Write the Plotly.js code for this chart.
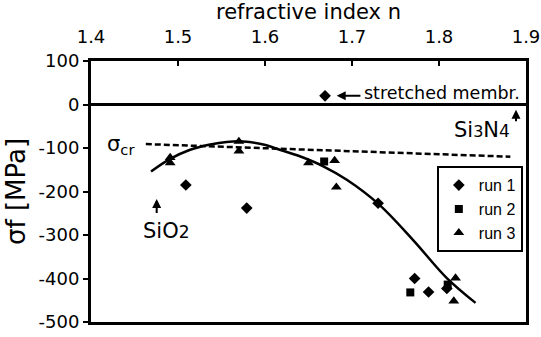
<!DOCTYPE html>
<html>
<head>
<meta charset="utf-8">
<script src="https://cdn.plot.ly/plotly-3.0.1.min.js"></script>
<style>html,body{margin:0;padding:0;background:#fff;}#chart{width:541px;height:337px;}</style>
</head>
<body>
<div id="chart"></div>
<script>
// refractive index n (x) and film stress sigma_f in MPa (y)
var run1_n = [1.669, 1.509, 1.579, 1.730, 1.772, 1.788, 1.809];
var run1_s = [20, -185, -238, -227, -400, -431, -423];
var run2_n = [1.668, 1.767, 1.810];
var run2_s = [-131, -432, -414];
var run3_n = [1.491, 1.491, 1.570, 1.570, 1.650, 1.680, 1.682, 1.819, 1.817];
var run3_s = [-122, -134, -85, -107, -134, -129, -190, -399, -452];
var fit_n = [1.469, 1.491, 1.514, 1.537, 1.556, 1.575, 1.598, 1.617, 1.640, 1.667, 1.694, 1.730, 1.770, 1.809, 1.842];
var fit_s = [-154, -125, -104, -92, -86, -85, -92, -104, -119, -142, -173, -228, -311, -399, -456];
var cr_n = [1.463, 1.882];
var cr_s = [-91, -120];
var xTicks = [1.4, 1.5, 1.6, 1.7, 1.8, 1.9];
var yTicks = [-500, -400, -300, -200, -100, 0, 100];

var FONT = 'DejaVu Sans';
var traces = [
  {x: cr_n, y: cr_s, mode: 'lines', showlegend: false, hoverinfo: 'skip',
   line: {color: '#000', width: 2.5, dash: '6px,3px'}},
  {x: fit_n, y: fit_s, mode: 'lines', showlegend: false, hoverinfo: 'skip',
   line: {color: '#000', width: 2.5, shape: 'spline', smoothing: 1}},
  {x: run1_n, y: run1_s, mode: 'markers', name: 'run 1',
   marker: {symbol: 'diamond', size: 9, color: '#000'}},
  {x: run2_n, y: run2_s, mode: 'markers', name: 'run 2',
   marker: {symbol: 'square', size: 8, color: '#000'}},
  {x: run3_n, y: run3_s, mode: 'markers', name: 'run 3',
   marker: {symbol: 'triangle-up', size: 9.5, color: '#000'}}
];

function arrow(xh, yh, xt, yt) {
  return {x: xh, y: yh, ax: xt, ay: yt, xref: 'x', yref: 'y', axref: 'x', ayref: 'y',
    text: '', showarrow: true, arrowhead: 2, arrowsize: 0.9, arrowwidth: 2, arrowcolor: '#000',
    standoff: 0, startstandoff: 0};
}

var layout = {
  width: 541, height: 337,
  margin: {l: 91, r: 15, t: 61, b: 15, autoexpand: false},
  paper_bgcolor: '#fff', plot_bgcolor: '#fff',
  font: {family: FONT, color: '#000', size: 18},
  showlegend: true,
  legend: {x: 0.795, y: 0.597, xanchor: 'left', yanchor: 'top',
    bordercolor: '#000', borderwidth: 2, bgcolor: '#fff',
    font: {family: 'Liberation Sans, Arial', size: 16, color: '#000'}, itemwidth: 30, tracegroupgap: 0},
  xaxis: {
    side: 'top', range: [1.4, 1.9], tickvals: xTicks, ticktext: xTicks.map(function(v){return v.toFixed(1);}),
    ticks: 'inside', ticklen: 5, tickwidth: 2, tickcolor: '#000',
    showline: true, linewidth: 3, linecolor: '#000', mirror: true,
    showgrid: false, zeroline: false, ticklabelstandoff: 8,
    tickfont: {family: FONT, size: 18, color: '#000'},
    title: {text: 'refractive index n', font: {family: FONT, size: 21, color: '#000'}, standoff: 4}
  },
  yaxis: {
    range: [-500, 100], tickvals: yTicks, ticktext: yTicks.map(String),
    ticks: 'outside', ticklen: 5, tickwidth: 2, tickcolor: '#000',
    showline: true, linewidth: 3, linecolor: '#000', mirror: true,
    showgrid: false, zeroline: true, zerolinewidth: 3, zerolinecolor: '#000',
    tickfont: {family: FONT, size: 18, color: '#000'},
    title: {text: 'σf [MPa]', font: {family: FONT, size: 26, color: '#000'}, standoff: 6}
  },
  annotations: [
    {x: 1.7115, y: 27, xref: 'x', yref: 'y', xanchor: 'left', yanchor: 'middle', showarrow: false,
     text: 'stretched membr.', font: {family: FONT, size: 17.5, color: '#000'}},
    arrow(1.6824, 20, 1.7114, 20),
    {x: 1.884, y: -58, xref: 'x', yref: 'y', xanchor: 'right', yanchor: 'middle', showarrow: false,
     text: 'Si<span style="font-size:16px">3</span>N<span style="font-size:17px">4</span>', font: {family: FONT, size: 21, color: '#000'}},
    arrow(1.8885, -12, 1.8885, -42),
    {x: 1.4525, y: -93, xref: 'x', yref: 'y', xanchor: 'right', yanchor: 'middle', showarrow: false,
     text: 'σ<sub>cr</sub>', font: {family: FONT, size: 21, color: '#000'}},
    {x: 1.487, y: -290, xref: 'x', yref: 'y', xanchor: 'center', yanchor: 'middle', showarrow: false,
     text: 'SiO<span style="font-size:17px">2</span>', font: {family: FONT, size: 21, color: '#000'}},
    arrow(1.4755, -217, 1.4755, -253)
  ]
};

Plotly.newPlot('chart', traces, layout, {staticPlot: true, displayModeBar: false});
</script>
</body>
</html>
